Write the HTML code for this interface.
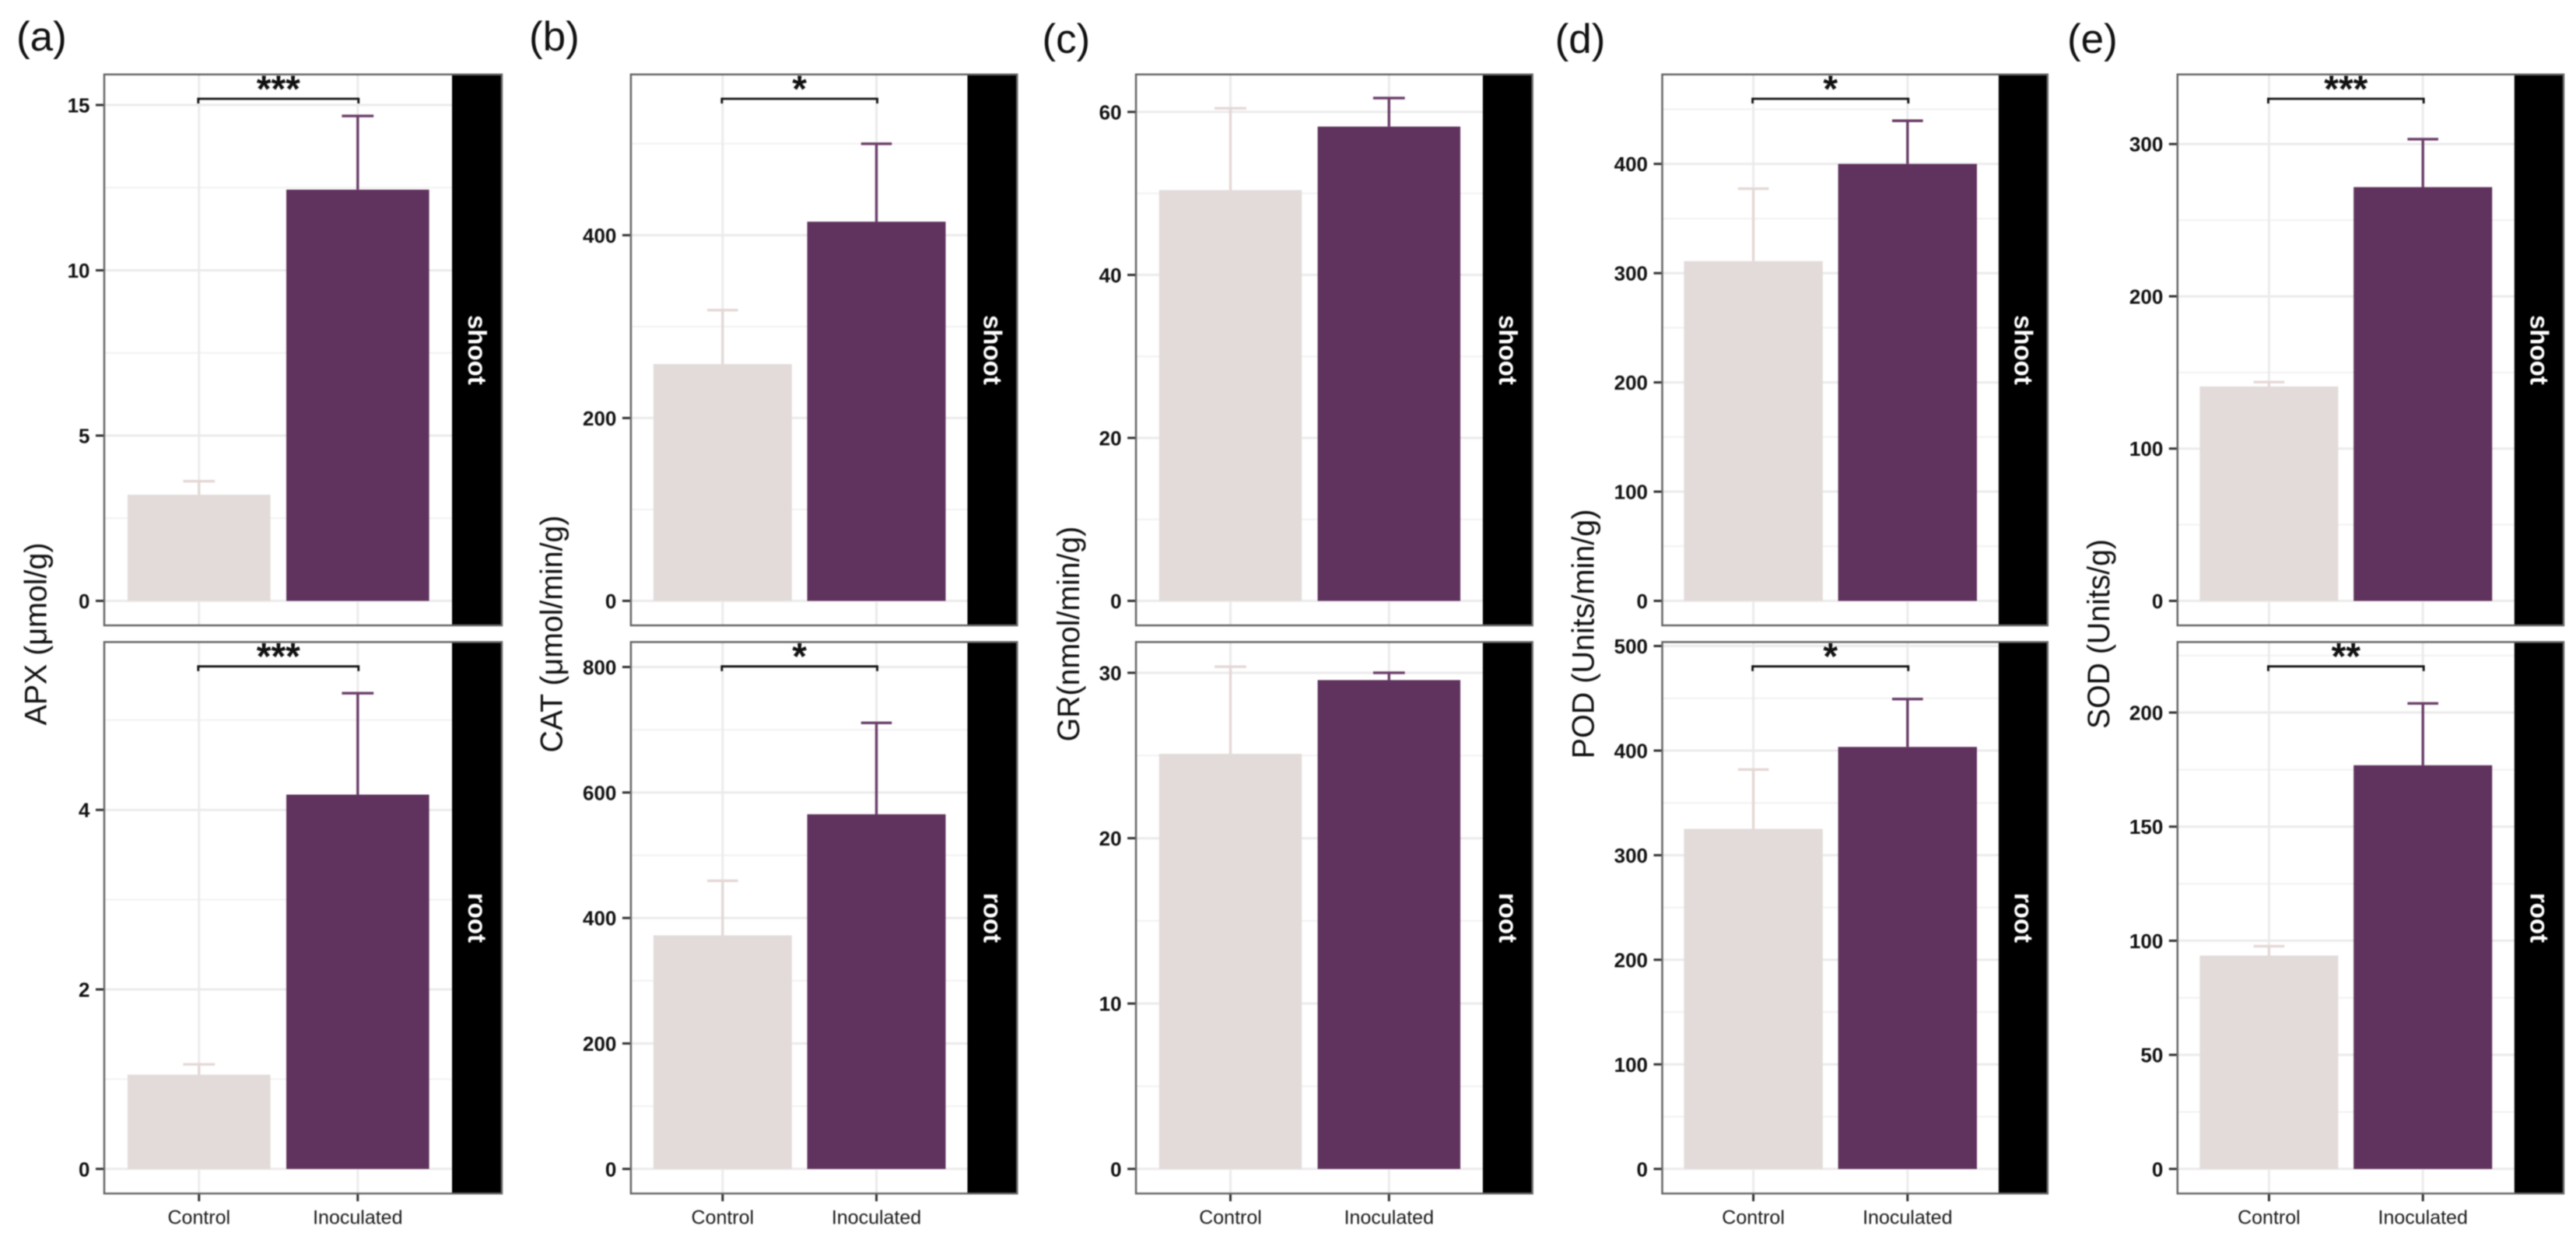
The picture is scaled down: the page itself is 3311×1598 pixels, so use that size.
<!DOCTYPE html>
<html lang="en">
<head>
<meta charset="utf-8">
<title>Antioxidant enzyme activity in shoot and root</title>
<style>
  html, body { margin: 0; padding: 0; background: #ffffff; }
  body { width: 3311px; height: 1598px; overflow: hidden; }
  svg { display: block; font-family: "Liberation Sans", sans-serif; filter: blur(0.7px); }
</style>
</head>
<body>
<svg id="figure" xmlns="http://www.w3.org/2000/svg" width="3311" height="1598" viewBox="0 0 3311 1598"></svg>
<script>
const categories = ['Control', 'Inoculated'];

const apxShootMeans = [3.21, 12.44];
const apxShootUpper = [3.62, 14.67];
const apxShootTicks = [0, 5, 10, 15];
const apxShootDomain = [-0.741, 15.925];
const apxRootMeans = [1.05, 4.17];
const apxRootUpper = [1.165, 5.30];
const apxRootTicks = [0, 2, 4];
const apxRootDomain = [-0.274, 5.870];

const catShootMeans = [259, 414.7];
const catShootUpper = [318, 500];
const catShootTicks = [0, 200, 400];
const catShootDomain = [-26.8, 575.8];
const catRootMeans = [372.3, 565.3];
const catRootUpper = [459.3, 711];
const catRootTicks = [0, 200, 400, 600, 800];
const catRootDomain = [-39.18, 839.8];

const grShootMeans = [50.4, 58.2];
const grShootUpper = [60.45, 61.7];
const grShootTicks = [0, 20, 40, 60];
const grShootDomain = [-3.006, 64.6];
const grRootMeans = [25.1, 29.56];
const grRootUpper = [30.37, 30.0];
const grRootTicks = [0, 10, 20, 30];
const grRootDomain = [-1.486, 31.86];

const podShootMeans = [311, 400];
const podShootUpper = [377.3, 439.5];
const podShootTicks = [0, 100, 200, 300, 400];
const podShootDomain = [-22.43, 481.9];
const podRootMeans = [325.2, 403.5];
const podRootUpper = [381.9, 449.3];
const podRootTicks = [0, 100, 200, 300, 400, 500];
const podRootDomain = [-23.5, 503.8];

const sodShootMeans = [140.8, 271.7];
const sodShootUpper = [143.7, 303.2];
const sodShootTicks = [0, 100, 200, 300];
const sodShootDomain = [-16.09, 345.7];
const sodRootMeans = [93.5, 176.9];
const sodRootUpper = [97.6, 204];
const sodRootTicks = [0, 50, 100, 150, 200];
const sodRootDomain = [-10.77, 230.9];

const columns = [
  { key: 'apx', tag: '(a)', tagX: 21, tagY: 65, title: 'APX (\u03BCmol/g)', titleX: 59.5, titleLen: 235,
    left: 134, stripLeft: 581, stripRight: 645, c0: 255.8, c1: 459.8,
    shoot: { means: apxShootMeans, upper: apxShootUpper, ticks: apxShootTicks, domain: apxShootDomain, stars: '***' },
    root: { means: apxRootMeans, upper: apxRootUpper, ticks: apxRootTicks, domain: apxRootDomain, stars: '***' } },
  { key: 'cat', tag: '(b)', tagX: 680, tagY: 65, title: 'CAT (\u03BCmol/min/g)', titleX: 722.5, titleLen: 305,
    left: 810.9, stripLeft: 1243.5, stripRight: 1307.3, c0: 928.8, c1: 1126.5,
    shoot: { means: catShootMeans, upper: catShootUpper, ticks: catShootTicks, domain: catShootDomain, stars: '*' },
    root: { means: catRootMeans, upper: catRootUpper, ticks: catRootTicks, domain: catRootDomain, stars: '*' } },
  { key: 'gr', tag: '(c)', tagX: 1339.5, tagY: 68, title: 'GR(nmol/min/g)', titleX: 1387, titleLen: 276.7,
    left: 1460.1, stripLeft: 1905.9, stripRight: 1969.6, c0: 1581.5, c1: 1785.3,
    shoot: { means: grShootMeans, upper: grShootUpper, ticks: grShootTicks, domain: grShootDomain, stars: '' },
    root: { means: grRootMeans, upper: grRootUpper, ticks: grRootTicks, domain: grRootDomain, stars: '' } },
  { key: 'pod', tag: '(d)', tagX: 1998.6, tagY: 68, title: 'POD (Units/min/g)', titleX: 2048.5, titleLen: 320.8,
    left: 2136.5, stripLeft: 2568.9, stripRight: 2631.8, c0: 2253.6, c1: 2451.8,
    shoot: { means: podShootMeans, upper: podShootUpper, ticks: podShootTicks, domain: podShootDomain, stars: '*' },
    root: { means: podRootMeans, upper: podRootUpper, ticks: podRootTicks, domain: podRootDomain, stars: '*' } },
  { key: 'sod', tag: '(e)', tagX: 2657, tagY: 68, title: 'SOD (Units/g)', titleX: 2711, titleLen: 244,
    left: 2798.8, stripLeft: 3231.8, stripRight: 3295, c0: 2916.4, c1: 3114.2,
    shoot: { means: sodShootMeans, upper: sodShootUpper, ticks: sodShootTicks, domain: sodShootDomain, stars: '***' },
    root: { means: sodRootMeans, upper: sodRootUpper, ticks: sodRootTicks, domain: sodRootDomain, stars: '**' } }
];

const rows = [
  { key: 'shoot', top: 95.7, bottom: 804 },
  { key: 'root', top: 825.4, bottom: 1534.4 }
];

const fillColors = ['#e2dbda', '#60325e'];
const errorColors = ['#e4d8d6', '#6a3d68'];
const svgRoot = document.getElementById('figure');
const NS = 'http://www.w3.org/2000/svg';

function make(tag, parent, attrs, text) {
  const node = document.createElementNS(NS, tag);
  for (const k in attrs) node.setAttribute(k, attrs[k]);
  if (text !== undefined) node.textContent = text;
  parent.appendChild(node);
  return node;
}

function yScale(domain, row) {
  return function (v) {
    return row.bottom - (v - domain[0]) / (domain[1] - domain[0]) * (row.bottom - row.top);
  };
}

function xScale(col) {
  return function (i) { return col.c0 + i * (col.c1 - col.c0); };
}

function drawPanel(col, row, isBottomRow) {
  const spec = col[row.key];
  const y = yScale(spec.domain, row);
  const x = xScale(col);
  const band = col.c1 - col.c0;
  const barWidth = band * 0.9;
  const capWidth = band * 0.2;

  const g = make('g', svgRoot, {});
  
  

  const bg = make('rect', g, { x: col.left, y: row.top, width: col.stripLeft - col.left, height: row.bottom - row.top, fill: '#ffffff' });
  
  

  const step = spec.ticks[1] - spec.ticks[0];
  for (let m = spec.ticks[0] + step / 2; m < spec.domain[1]; m += step) {
    const minor = make('line', g, { x1: col.left, x2: col.stripLeft, y1: y(m), y2: y(m), stroke: '#f3f1f1', 'stroke-width': 2 });
    
    
  }
  spec.ticks.forEach(function (t) {
    const major = make('line', g, { x1: col.left, x2: col.stripLeft, y1: y(t), y2: y(t), stroke: '#ecebeb', 'stroke-width': 3 });
    
    
  });
  categories.forEach(function (c, i) {
    const vgrid = make('line', g, { x1: x(i), x2: x(i), y1: row.top, y2: row.bottom, stroke: '#ecebeb', 'stroke-width': 3 });
    
    
  });

  categories.forEach(function (c, i) {
    const stem = make('line', g, { x1: x(i), x2: x(i), y1: y(spec.means[i]), y2: y(spec.upper[i]), stroke: errorColors[i], 'stroke-width': 3.4 });
    
    
    const cap = make('line', g, { x1: x(i) - capWidth / 2, x2: x(i) + capWidth / 2, y1: y(spec.upper[i]), y2: y(spec.upper[i]), stroke: errorColors[i], 'stroke-width': 3.4 });
    
    
    const bar = make('rect', g, { x: x(i) - barWidth / 2, y: y(spec.means[i]), width: barWidth, height: y(0) - y(spec.means[i]), fill: fillColors[i] });
    
    
  });

  if (spec.stars) {
    const by = row.top + 31.3;
    const bracket = make('path', g, { d: 'M' + (x(0) - 1) + ' ' + (by + 6) + 'V' + by + 'H' + (x(1) + 1) + 'V' + (by + 6), fill: 'none', stroke: '#111111', 'stroke-width': 2.8 });
    
    
    const stars = make('text', g, { x: (x(0) + x(1)) / 2, y: by + 11.5 - 8, 'text-anchor': 'middle', 'font-size': 48, 'font-weight': 'bold', fill: '#111111' }, spec.stars);
    
    
  }

  spec.ticks.forEach(function (t) {
    const tick = make('line', g, { x1: col.left - 11, x2: col.left, y1: y(t), y2: y(t), stroke: '#333333', 'stroke-width': 3 });
    
    
    const label = make('text', g, { x: col.left - 18.5, y: y(t) + 9.5, 'text-anchor': 'end', 'font-size': 26, 'font-weight': 'bold', fill: '#111111' }, String(t));
    
    
  });

  if (isBottomRow) {
    categories.forEach(function (c, i) {
      const tick = make('line', g, { x1: x(i), x2: x(i), y1: row.bottom, y2: row.bottom + 10, stroke: '#333333', 'stroke-width': 3 });
      
      
      const label = make('text', g, { x: x(i), y: 1573.5, 'text-anchor': 'middle', 'font-size': 25, fill: '#1a1a1a' }, c);
      
      
    });
  }

  const strip = make('rect', g, { x: col.stripLeft, y: row.top, width: col.stripRight - col.stripLeft, height: row.bottom - row.top, fill: '#000000' });
  
  
  const sx = (col.stripLeft + col.stripRight) / 2;
  const sy = (row.top + row.bottom) / 2;
  const stripLabel = make('text', g, { x: 0, y: 0, transform: 'translate(' + (sx - 11) + ' ' + sy + ') rotate(90)', 'text-anchor': 'middle', 'font-size': 33, 'font-weight': 'bold', fill: '#ffffff' }, row.key);
  
  

  const border = make('rect', g, { x: col.left, y: row.top, width: col.stripRight - col.left, height: row.bottom - row.top, fill: 'none', stroke: '#666666', 'stroke-width': 2.5 });
  
  
}

columns.forEach(function (col) {
  const tag = make('text', svgRoot, { x: col.tagX, y: col.tagY, 'font-size': 53, fill: '#111111' }, col.tag);
  
  

  const title = make('text', svgRoot, { x: 0, y: 0, transform: 'translate(' + col.titleX + ' 815) rotate(-90)', 'text-anchor': 'middle', 'font-size': 40, fill: '#111111', textLength: col.titleLen, lengthAdjust: 'spacingAndGlyphs' }, col.title);
  
  

  rows.forEach(function (row, r) {
    drawPanel(col, row, r === 1);
  });
});
</script>
</body>
</html>
